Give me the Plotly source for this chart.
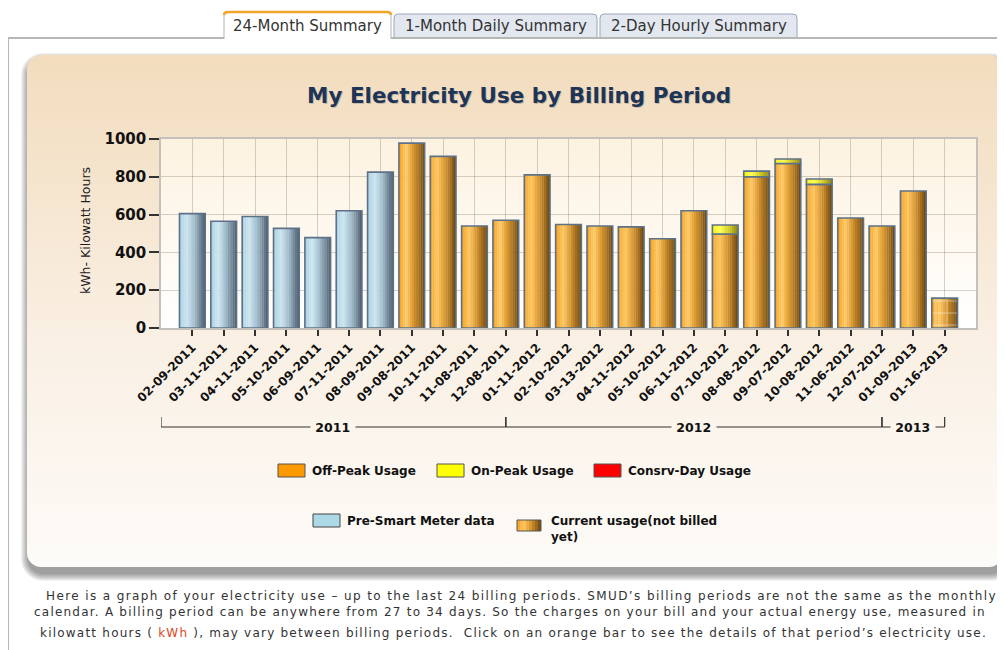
import numpy as np
import plotly.graph_objects as go

# billing period end dates
dates = ['02-09-2011', '03-11-2011', '04-11-2011', '05-10-2011', '06-09-2011',
         '07-11-2011', '08-09-2011', '09-08-2011', '10-11-2011', '11-08-2011',
         '12-08-2011', '01-11-2012', '02-10-2012', '03-13-2012', '04-11-2012',
         '05-10-2012', '06-11-2012', '07-10-2012', '08-08-2012', '09-07-2012',
         '10-08-2012', '11-06-2012', '12-07-2012', '01-09-2013', '01-16-2013']

# kWh per period
pre_smart_kwh = [605, 565, 590, 527, 478, 620, 825, None, None, None,
                 None, None, None, None, None, None, None, None, None, None,
                 None, None, None, None, None]
off_peak_kwh = [None, None, None, None, None, None, None, 978, 908, 540,
                570, 810, 548, 540, 535, 472, 620, 497, 800, 870,
                760, 582, 540, 725, None]
on_peak_kwh = [None, None, None, None, None, None, None, None, None, None,
               None, None, None, None, None, None, None, 48, 30, 24,
               28, None, None, None, None]
current_kwh = [None, None, None, None, None, None, None, None, None, None,
               None, None, None, None, None, None, None, None, None, None,
               None, None, None, None, 158]

legend_row1 = [('Off-Peak Usage', '#ff9900'), ('On-Peak Usage', '#ffff00'),
               ('Consrv-Day Usage', '#ff0000')]

FONT = 'DejaVu Sans'
# the page body has an 8px margin, so the figure sits at (8, 8) in the window
OX, OY = 8, 8
W, H = 1005 - OX, 650 - OY
BAR_W = 0.82

ORANGE = [(0, '#f5a020'), (0.28, '#ffc862'), (0.55, '#dc9a32'), (0.8, '#a06c1c'), (1, '#664410')]
BLUE = [(0, '#a9d0e2'), (0.28, '#cde6f0'), (0.55, '#a6c2d0'), (0.8, '#75899a'), (1, '#48596a')]
YELLOW = [(0, '#f2f200'), (0.3, '#ffff5a'), (0.6, '#d8d420'), (1, '#8c8418')]


def lerp(stops, t):
    for (t0, c0), (t1, c1) in zip(stops[:-1], stops[1:]):
        if t <= t1:
            f = (t - t0) / (t1 - t0)
            a = [int(c0[i:i + 2], 16) for i in (1, 3, 5)]
            b = [int(c1[i:i + 2], 16) for i in (1, 3, 5)]
            return 'rgb(%d,%d,%d)' % tuple(round(a[k] + (b[k] - a[k]) * f) for k in range(3))
    return stops[-1][1]


def rrect(x0, y0, x1, y1, r, n=10):
    xs, ys = [], []
    for cx, cy, a0 in [(x1 - r, y0 + r, -90), (x1 - r, y1 - r, 0),
                       (x0 + r, y1 - r, 90), (x0 + r, y0 + r, 180)]:
        ang = np.radians(np.linspace(a0, a0 + 90, n))
        xs += list(cx + r * np.cos(ang))
        ys += list(cy + r * np.sin(ang))
    return xs + xs[:1], ys + ys[:1]


def px(x):
    return (x - OX) / W


def py(y):
    return 1 - (y - OY) / H


fig = go.Figure()

# page decoration on a window-pixel background axis
for k in range(8, 0, -1):
    xs, ys = rrect(29 - k, 61 - k, 1005 + k, 573 + k, 14 + k)
    fig.add_trace(go.Scatter(x=xs, y=ys, fill='toself', mode='none',
                             fillcolor='rgba(0,0,0,0.055)', hoverinfo='skip', showlegend=False))
xs, ys = rrect(27, 55, 1003, 567, 14)
fig.add_trace(go.Scatter(x=xs, y=ys, fill='toself', mode='none', hoverinfo='skip', showlegend=False,
                         fillgradient=dict(type='vertical', start=55, stop=567,
                                           colorscale=[[0, '#f2dcbd'], [0.6, '#faf1e6'], [1, '#fdfbf8']])))
fig.add_trace(go.Scatter(x=[161, 976, 976, 161, 161], y=[139, 139, 328, 328, 139], fill='toself',
                         mode='none', hoverinfo='skip', showlegend=False,
                         fillgradient=dict(type='vertical', start=139, stop=328,
                                           colorscale=[[0, '#fdf2e0'], [1, '#ffffff']])))


def add_cyl(y, base, stops, pattern=None, n=12):
    for j in range(n):
        color = lerp(stops, (j + 0.5) / n)
        fig.add_trace(go.Bar(x=dates, y=y, base=base, offset=-BAR_W / 2 + j * BAR_W / n,
                             width=BAR_W / n + (0.006 if j < n - 1 else 0),
                             marker=dict(color=color, line_width=0),
                             xaxis='x2', yaxis='y2', hoverinfo='skip', showlegend=False))
    if pattern:
        fig.add_trace(go.Bar(x=dates, y=y, base=base, offset=-BAR_W / 2, width=BAR_W,
                             marker=dict(color='rgba(0,0,0,0)', line_width=0, pattern=pattern),
                             xaxis='x2', yaxis='y2', hoverinfo='skip', showlegend=False))
    fig.add_trace(go.Bar(x=dates, y=y, base=base, offset=-BAR_W / 2, width=BAR_W,
                         marker=dict(color='rgba(0,0,0,0)', line=dict(color='#5d7187', width=1.6)),
                         xaxis='x2', yaxis='y2', showlegend=False))


add_cyl(pre_smart_kwh, None, BLUE)
add_cyl(off_peak_kwh, None, ORANGE)
add_cyl(on_peak_kwh, off_peak_kwh, YELLOW)
add_cyl(current_kwh, None, ORANGE,
        pattern=dict(shape='+', fgcolor='white', size=12, solidity=0.14))

shapes = []
ann = []

# frame and tabs
shapes.append(dict(type='line', x0=8, x1=1005, y0=38, y1=38, line=dict(color='#b5b9b5', width=2)))
shapes.append(dict(type='line', x0=8, x1=8, y0=37, y1=650, line=dict(color='#b5b9b5', width=2)))
tabs = [('24-Month Summary', 224, 391, True), ('1-Month Daily Summary', 394, 597, False),
        ('2-Day Hourly Summary', 600, 797, False)]
for label, x0, x1, active in tabs:
    y0 = 12 if active else 14
    y1 = 39 if active else 37
    r = 4
    p = 'M%d,%d L%d,%d Q%d,%d %d,%d L%d,%d Q%d,%d %d,%d L%d,%d Z' % (
        x0, y1, x0, y0 + r, x0, y0, x0 + r, y0, x1 - r, y0, x1, y0, x1, y0 + r, x1, y1)
    shapes.append(dict(type='path', path=p, fillcolor='#ffffff' if active else '#e3e8f0',
                       line=dict(width=0)))
    side = 'M%d,%d L%d,%d Q%d,%d %d,%d L%d,%d Q%d,%d %d,%d L%d,%d' % (
        x0, y1, x0, y0 + r, x0, y0, x0 + r, y0, x1 - r, y0, x1, y0, x1, y0 + r, x1, y1)
    shapes.append(dict(type='path', path=side,
                       line=dict(color='#b0b4b0' if active else '#98a6ba', width=1)))
    if active:
        shapes.append(dict(type='path',
                           path='M%d,%d Q%d,%d %d,%d L%d,%d Q%d,%d %d,%d' % (
                               x0, y0 + 3, x0, y0, x0 + r, y0, x1 - r, y0, x1, y0, x1, y0 + 3),
                           line=dict(color='#f2a52a', width=2.5)))
    ann.append(dict(x=(x0 + x1) / 2, y=25.5, text=label, showarrow=False,
                    font=dict(family=FONT, size=15, color='#333333')))

# title
for dx, col in [(1.5, 'rgba(0,0,0,0.18)'), (0, '#1e3557')]:
    ann.append(dict(x=518.5 + dx, y=95 + dx, text='My Electricity Use by Billing Period', showarrow=False,
                    font=dict(family=FONT, size=21.5, color=col, weight='bold')))

ann.append(dict(x=85, y=231, text='kWh- Kilowatt Hours', textangle=-90, showarrow=False,
                font=dict(family=FONT, size=12.5, color='#222222')))

# legend (drawn by hand, like the original)
lx = [278, 437, 594]
for (label, col), x0 in zip(legend_row1, lx):
    shapes.append(dict(type='rect', x0=x0, x1=x0 + 27, y0=464, y1=477, fillcolor=col,
                       line=dict(color='#555555', width=1)))
    ann.append(dict(x=x0 + 32, y=471, text=label, xanchor='left', showarrow=False,
                    font=dict(family=FONT, size=12, color='#111111', weight='bold')))
shapes.append(dict(type='rect', x0=313, x1=340, y0=514, y1=527, fillcolor='#add8e6',
                   line=dict(color='#444444', width=1)))
ann.append(dict(x=345, y=520.5, text='Pre-Smart Meter data', xanchor='left', showarrow=False,
                font=dict(family=FONT, size=12, color='#111111', weight='bold')))
n_icon = 8
for j in range(n_icon):
    shapes.append(dict(type='rect', x0=517 + j * 3, x1=520 + j * 3, y0=520, y1=531,
                       fillcolor=lerp(ORANGE, (j + 0.5) / n_icon), line=dict(width=0)))
shapes.append(dict(type='rect', x0=517, x1=541, y0=520, y1=531, line=dict(color='#555555', width=1)))
ann.append(dict(x=549, y=529, text='Current usage(not billed<br>yet)', xanchor='left', align='left',
                showarrow=False, font=dict(family=FONT, size=12, color='#111111', weight='bold')))

# year brackets under the date labels
years = [d[-4:] for d in dates]
ends = [max(i for i, y in enumerate(years) if y == yr) for yr in sorted(set(years))]
starts = [-1] + ends[:-1]
yb0, yb1 = py(417), py(427)
for yr, s, e in zip(sorted(set(years)), starts, ends):
    shapes.append(dict(type='line', xref='x2', yref='paper', x0=s, x1=e, y0=yb1, y1=yb1,
                       line=dict(color='#333333', width=1.2)))
    for xv in (s, e):
        shapes.append(dict(type='line', xref='x2', yref='paper', x0=xv, x1=xv, y0=yb0, y1=yb1,
                           line=dict(color='#333333', width=1.2)))
    ann.append(dict(xref='x2', yref='paper', x=(s + e) / 2, y=yb1, text=' ' + yr + ' ', showarrow=False,
                    bgcolor='#fbf5ec', borderpad=0,
                    font=dict(family=FONT, size=12.5, color='#111111', weight='bold')))

# explanatory text under the panel
def spaced(t, ls):
    return "<span style='letter-spacing:%spx'>%s</span>" % (ls, t)


body = [
    (44, 596, spaced("Here is a graph of your electricity use – up to the last 24 billing periods. SMUD’s billing periods are not the same as the monthly", 1.38)),
    (32, 612, spaced("calendar. A billing period can be anywhere from 27 to 34 days. So the charges on your bill and your actual energy use, measured in", 1.22)),
    (38, 633, spaced("kilowatt hours ( ", 1.22)
     + "<span style='color:#e0461c;letter-spacing:1.22px'>kWh</span>"
     + spaced(" ), may vary between billing periods.  Click on an orange bar to see the details of that period’s electricity use.", 1.22)),
]
for x, y, t in body:
    ann.append(dict(x=x, y=y, text=t, xanchor='left', showarrow=False,
                    font=dict(family=FONT, size=12, color='#333333')))

for s in shapes:
    s.setdefault('xref', 'x')
    s.setdefault('yref', 'y')
for a in ann:
    a.setdefault('xref', 'x')
    a.setdefault('yref', 'y')

fig.update_layout(
    width=W, height=H, autosize=False,
    margin=dict(l=0, r=0, t=0, b=0, autoexpand=False),
    paper_bgcolor='white', plot_bgcolor='rgba(0,0,0,0)',
    barmode='overlay', showlegend=False,
    shapes=shapes, annotations=ann,
    xaxis=dict(range=[OX, 1005], domain=[0, 1], visible=False, fixedrange=True),
    yaxis=dict(range=[650, OY], domain=[0, 1], visible=False, fixedrange=True),
    xaxis2=dict(domain=[px(161), px(976)], anchor='y2', type='category', range=[-1, 25],
                tickangle=-45, ticks='outside', ticklen=6, tickcolor='#333333', tickwidth=1.5,
                tickfont=dict(family=FONT, size=12, color='#111111', weight='bold'),
                showgrid=True, gridcolor='rgba(110,95,80,0.28)', gridwidth=1,
                showline=True, linecolor='#c4c0bc', linewidth=1.5, mirror=True, fixedrange=True),
    yaxis2=dict(domain=[py(328), py(139)], anchor='x2', range=[0, 1000], dtick=200,
                ticks='outside', ticklen=10, tickcolor='#333333', tickwidth=1.5,
                tickfont=dict(family=FONT, size=15, color='#111111', weight='bold'),
                showgrid=True, gridcolor='rgba(110,95,80,0.28)', gridwidth=1, zeroline=False,
                showline=True, linecolor='#c4c0bc', linewidth=1.5, mirror=True, fixedrange=True),
)

fig.write_html("out.html")
